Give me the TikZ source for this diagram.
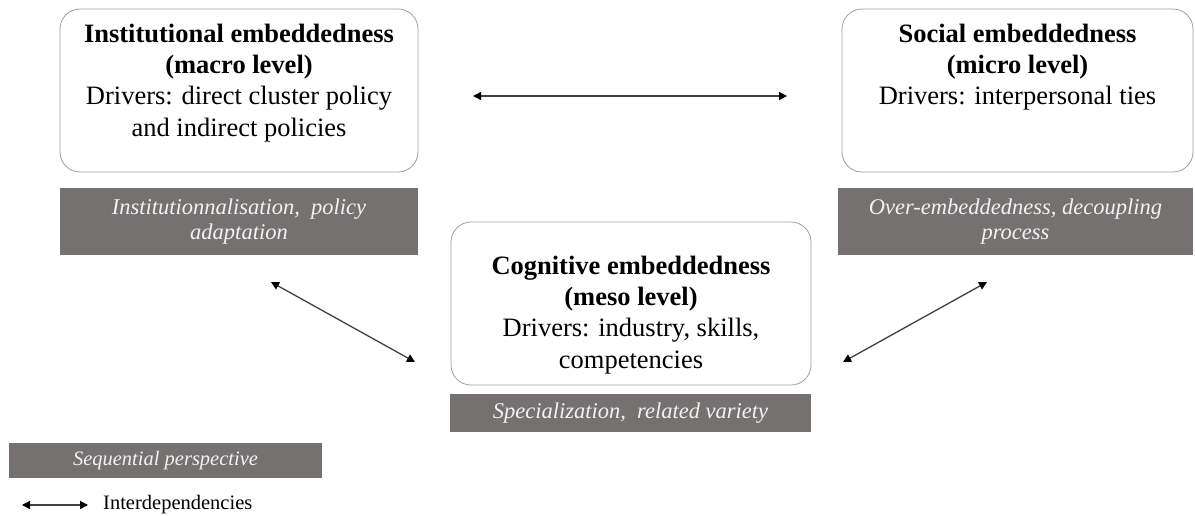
\documentclass[tikz,border=0pt]{standalone}
\usepackage{fontspec}
\setmainfont{Liberation Serif}
\usetikzlibrary{arrows.meta}
\usetikzlibrary{positioning}

\definecolor{bargrey}{HTML}{767171}
\definecolor{barfont}{HTML}{F2F2F2}
\definecolor{edgegrey}{HTML}{A0A0A0}

\begin{document}
\begin{tikzpicture}[x=1pt,y=-1pt]
    \useasboundingbox (0,0) rectangle (1195,515);

    \begin{scope}[every node/.style={draw=edgegrey,line width=0.8pt,rounded corners=20pt,minimum height=163pt,inner sep=0pt}]
        \node[minimum width=358pt] (inst) at (239,90.5) {};
        \node[minimum width=351pt] (soc) at (1017.5,90.5) {};
        \node[minimum width=360pt] (cog) at (631,303.5) {};
    \end{scope}

    \begin{scope}[every node/.style={align=center,inner sep=0pt,anchor=north,font=\fontsize{26.5}{31.3}\selectfont}]
        \node[below=15pt of inst.north] (insttxt) {\textbf{Institutional embeddedness}\\\textbf{(macro level)}\\Drivers: direct cluster policy\\and indirect policies};
        \node[below=15pt of soc.north] (soctxt) {\textbf{Social embeddedness}\\\textbf{(micro level)}\\Drivers: interpersonal ties};
        \node[below=34pt of cog.north] (cogtxt) {\textbf{Cognitive embeddedness}\\\textbf{(meso level)}\\Drivers: industry, skills,\\competencies};
    \end{scope}

    \begin{scope}[every node/.style={fill=bargrey,text=barfont,align=center,inner sep=0pt,font=\itshape\fontsize{22.5}{25.5}\selectfont}]
        \node[minimum width=358pt,minimum height=67pt] (instbar) at (239,221.5) {Institutionnalisation,\ \ policy\\adaptation};
        \node[minimum width=355pt,minimum height=67pt] (socbar) at (1015.5,221.5) {Over-embeddedness, decoupling\\process};
        \node[minimum width=361pt,minimum height=38pt] (cogbar) at (630.5,413) {Specialization,\ \ related variety};
        \node[minimum width=313pt,minimum height=35pt,font=\itshape\fontsize{20.5}{23}\selectfont] (seqbar) at (165.5,460.5) {Sequential perspective};
    \end{scope}

    \coordinate (h1) at (473,96);
    \coordinate (h2) at (787,96);
    \coordinate (l1) at (271,282);
    \coordinate (l2) at (415,362);
    \coordinate (r1) at (987,282);
    \coordinate (r2) at (843,362);
    \coordinate (k1) at (22,505);
    \coordinate (k2) at (88,505);

    \begin{scope}[>={Triangle[length=8pt,width=8pt,black]},line width=1.3pt,black!75]
        \path [<->] (h1) edge (h2);
        \path [<->] (l1) edge (l2);
        \path [<->] (r1) edge (r2);
        \path [<->] (k1) edge (k2);
    \end{scope}

    \node[right=15pt of k2,inner sep=0pt,font=\fontsize{20.5}{23}\selectfont] (legtxt) {Interdependencies};

\end{tikzpicture}
\end{document}
